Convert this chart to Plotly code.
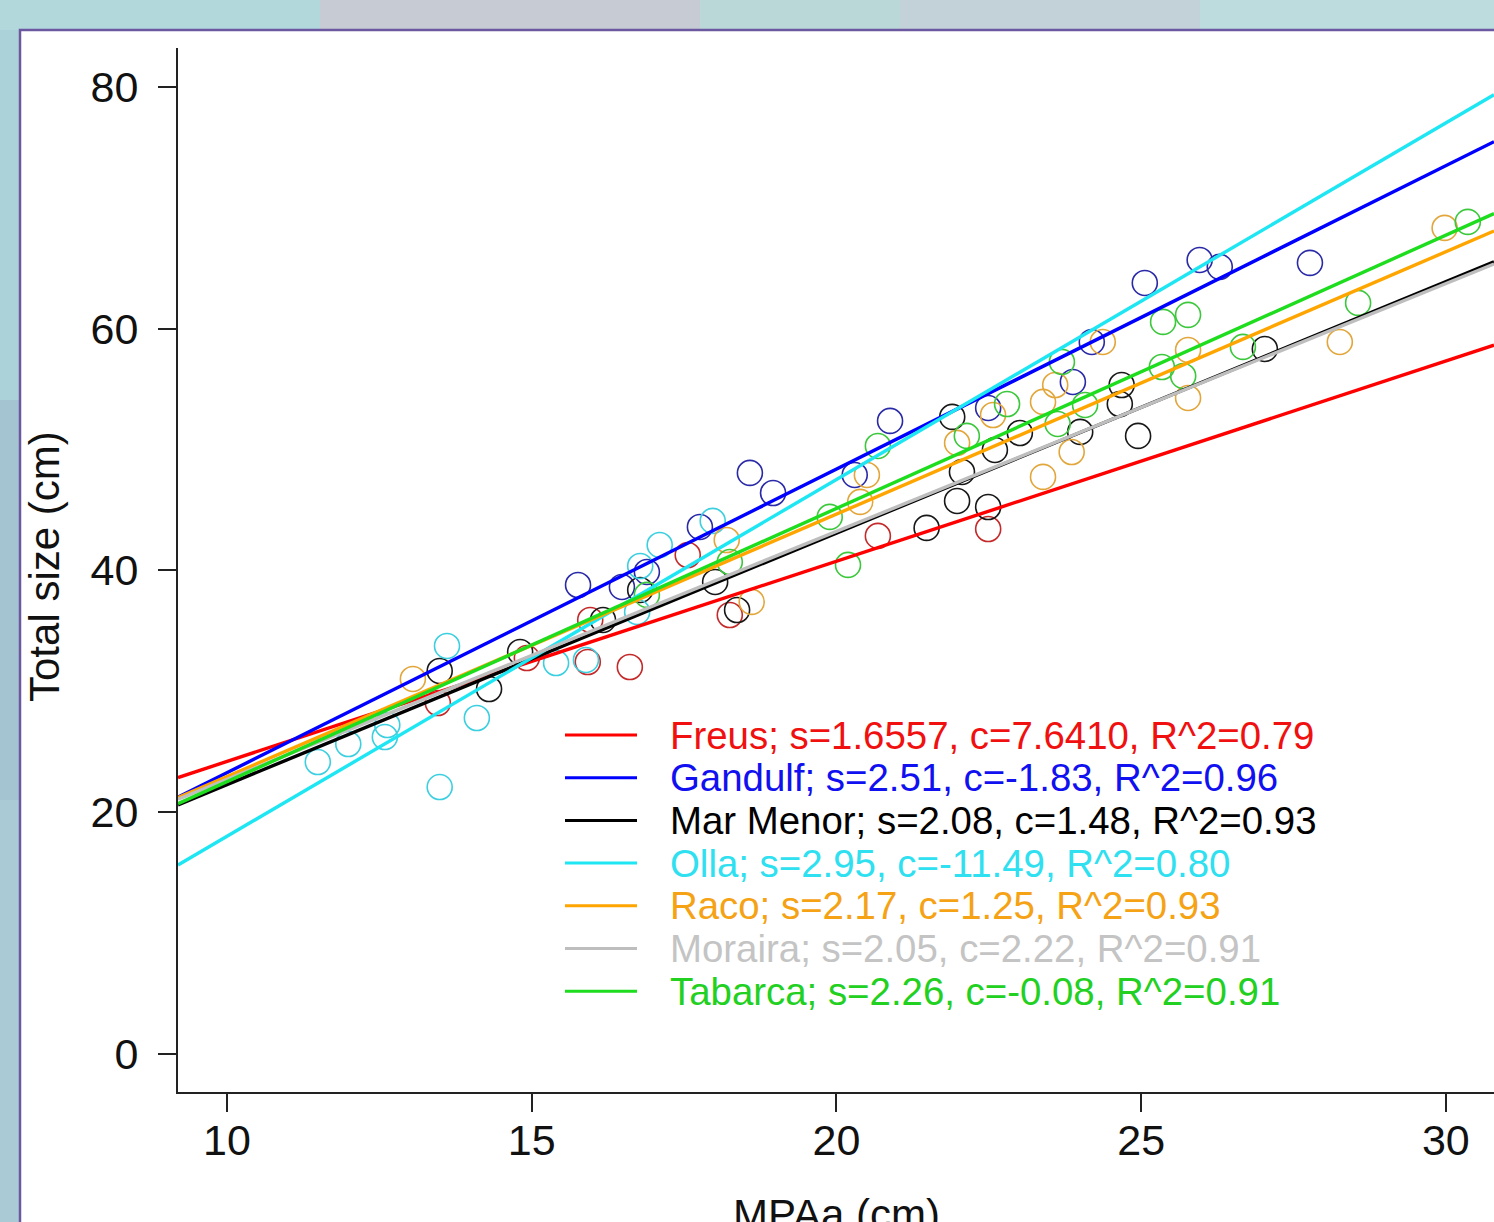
import plotly.graph_objects as go

# ---------------- data ----------------
sites = ["Freus", "Gandulf", "Mar Menor", "Olla", "Raco", "Moraira", "Tabarca"]
slopes = [1.6557, 2.51, 2.08, 2.95, 2.17, 2.05, 2.26]
intercepts = [7.6410, -1.83, 1.48, -11.49, 1.25, 2.22, -0.08]
legend_labels = [
    "Freus; s=1.6557, c=7.6410, R^2=0.79",
    "Gandulf; s=2.51, c=-1.83, R^2=0.96",
    "Mar Menor; s=2.08, c=1.48, R^2=0.93",
    "Olla; s=2.95, c=-11.49, R^2=0.80",
    "Raco; s=2.17, c=1.25, R^2=0.93",
    "Moraira; s=2.05, c=2.22, R^2=0.91",
    "Tabarca; s=2.26, c=-0.08, R^2=0.91",
]

freus_x = [13.46, 14.92, 15.96, 15.92, 16.61, 17.56, 18.25, 20.68, 22.49]
freus_y = [29.03, 32.75, 35.90, 32.42, 32.01, 41.27, 36.31, 42.85, 43.42]

gandulf_x = [15.76, 16.48, 16.89, 17.76, 18.58, 18.96, 20.30, 20.88, 22.49, 23.88, 24.19, 25.06, 25.96, 26.29, 27.77]
gandulf_y = [38.79, 38.63, 39.87, 43.59, 48.06, 46.40, 47.89, 52.36, 53.43, 55.58, 58.89, 63.77, 65.67, 65.10, 65.43]

marmenor_x = [13.49, 14.30, 14.81, 16.17, 16.78, 18.01, 18.37, 21.48, 21.90, 21.98, 22.06, 22.49, 22.60, 23.01, 24.00, 24.65, 24.68, 24.95, 27.03]
marmenor_y = [31.68, 30.19, 33.25, 35.90, 38.38, 39.04, 36.72, 43.51, 52.69, 45.74, 48.14, 45.24, 49.96, 51.36, 51.45, 53.76, 55.33, 51.12, 58.31]

olla_x = [11.49, 11.99, 12.59, 12.63, 13.49, 13.61, 14.10, 15.40, 15.89, 16.73, 16.78, 17.10, 17.97]
olla_y = [24.15, 25.64, 26.22, 27.21, 22.08, 33.75, 27.79, 32.34, 32.59, 36.56, 40.36, 42.10, 44.09]

raco_x = [13.05, 18.20, 18.61, 20.39, 20.50, 21.98, 22.57, 23.39, 23.39, 23.59, 23.86, 24.37, 25.77, 25.77, 28.26, 29.98]
raco_y = [31.02, 42.51, 37.39, 45.66, 47.89, 50.54, 52.85, 53.93, 47.73, 55.33, 49.79, 58.89, 58.23, 54.26, 58.89, 68.32]

moraira_x = []
moraira_y = []

tabarca_x = [16.89, 18.25, 19.89, 20.19, 20.68, 22.14, 22.80, 23.63, 23.70, 24.08, 25.34, 25.36, 25.69, 25.77, 26.67, 28.56, 30.36]
tabarca_y = [37.97, 40.69, 44.42, 40.45, 50.29, 51.12, 53.76, 52.11, 57.24, 53.68, 56.82, 60.55, 56.08, 61.13, 58.48, 62.12, 68.82]

x_ticks = [10, 15, 20, 25, 30]
y_ticks = [0, 20, 40, 60, 80]
x_range = [9.196, 30.79]
y_range = [-3.14, 83.2]

# ---------------- styles ----------------
line_colors = ["#ff0000", "#0000ff", "#000000", "#1ee6f2", "#ffa500", "#bebebe", "#1edc1e"]
text_colors = ["#f01010", "#1010f0", "#000000", "#2ee0f0", "#f5a214", "#c4c4c4", "#22d022"]
marker_colors = ["#c42a2a", "#2a2aa8", "#181818", "#3ccfe0", "#e2a63a", "#b0b0b0", "#3cc83c"]
pts = [(freus_x, freus_y), (gandulf_x, gandulf_y), (marmenor_x, marmenor_y), (olla_x, olla_y),
       (raco_x, raco_y), (moraira_x, moraira_y), (tabarca_x, tabarca_y)]

W, H = 1494, 1222
ML, MR, MT, MB = 178, 0, 48, 130
PW, PH = W - ML - MR, H - MT - MB
FONT = "Arial, Liberation Sans, Helvetica, sans-serif"


def px_x(p):
    return (p - ML) / PW


def px_y(p):
    return (H - MB - p) / PH


fig = go.Figure()

# points
for name, (xs, ys), col in zip(sites, pts, marker_colors):
    fig.add_trace(go.Scatter(
        x=xs, y=ys, mode="markers", name=name, showlegend=False,
        marker=dict(symbol="circle-open", size=25, color=col, line=dict(width=1.6, color=col)),
        cliponaxis=True))

# regression lines (abline style across full axis range)
for name, s, c, col in zip(sites, slopes, intercepts, line_colors):
    fig.add_trace(go.Scatter(
        x=x_range, y=[s * x_range[0] + c, s * x_range[1] + c], mode="lines",
        name=name, showlegend=False, line=dict(color=col, width=3.4)))

shapes = []
annotations = []

# background panel (white card with purple border on blue-grey backdrop)
backdrop = [
    (0, 0, 320, 30, "#b2d8dc"), (320, 0, 700, 30, "#c6cbd4"), (700, 0, 900, 30, "#bad8d8"),
    (900, 0, 1200, 30, "#c2d2d8"), (1200, 0, 1494, 30, "#bddcde"),
    (0, 30, 20, 400, "#acd2d9"), (0, 400, 20, 800, "#a4c4d2"), (0, 800, 20, 1222, "#aacbd6"),
]
for x0, y0, x1, y1, col in backdrop:
    shapes.append(dict(type="rect", xref="paper", yref="paper", layer="below",
                       x0=px_x(x0), x1=px_x(x1), y0=px_y(y1), y1=px_y(y0),
                       fillcolor=col, line=dict(width=0)))
shapes.append(dict(type="rect", xref="paper", yref="paper", layer="below",
                   x0=px_x(20), x1=px_x(1510), y0=px_y(1240), y1=px_y(30),
                   fillcolor="white", line=dict(color="#6c58a0", width=2.5)))

# legend (R style, no box)
row_y0, row_dy = 735, 42.7
for i, (lab, lc, tc) in enumerate(zip(legend_labels, line_colors, text_colors)):
    yc = row_y0 + i * row_dy
    shapes.append(dict(type="line", xref="paper", yref="paper",
                       x0=px_x(565), x1=px_x(637), y0=px_y(yc), y1=px_y(yc),
                       line=dict(color=lc, width=3)))
    annotations.append(dict(xref="paper", yref="paper", x=px_x(668), y=px_y(yc),
                            xanchor="left", yanchor="middle", showarrow=False,
                            text=lab, font=dict(family=FONT, size=38.4, color=tc)))

# axis titles
annotations.append(dict(xref="paper", yref="paper", x=0.5, y=px_y(1214),
                        xanchor="center", yanchor="middle", showarrow=False,
                        text="MPAa (cm)", font=dict(family=FONT, size=42, color="#111")))
annotations.append(dict(xref="paper", yref="paper", x=px_x(44), y=px_y(567),
                        xanchor="center", yanchor="middle", showarrow=False, textangle=-90,
                        text="Total size (cm)", font=dict(family=FONT, size=42, color="#111")))

fig.update_layout(
    width=W, height=H,
    margin=dict(l=ML, r=MR, t=MT, b=MB, pad=0),
    paper_bgcolor="#b2d2d8", plot_bgcolor="white",
    showlegend=False,
    shapes=shapes, annotations=annotations,
    font=dict(family=FONT, size=43, color="#111"),
)
axis_common = dict(showgrid=False, zeroline=False, showline=True, linecolor="#222", linewidth=2,
                   ticks="outside", ticklen=18, tickwidth=2, tickcolor="#222",
                   tickfont=dict(family=FONT, size=43, color="#111"), automargin=False)
fig.update_xaxes(range=x_range, tickvals=x_ticks, ticktext=[str(v) for v in x_ticks],
                 ticklabelstandoff=-9, **axis_common)
fig.update_yaxes(range=y_range, tickvals=y_ticks, ticktext=[str(v) for v in y_ticks],
                 ticklabelstandoff=11, **axis_common)

fig.write_html("out.html")
